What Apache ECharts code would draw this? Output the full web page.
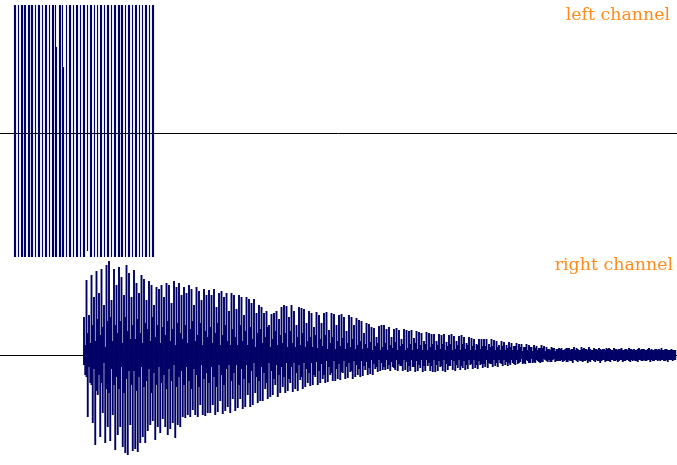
<!DOCTYPE html>
<html><head><meta charset="utf-8">
<script src="https://cdn.jsdelivr.net/npm/echarts@6/dist/echarts.min.js"></script>
<style>html,body{margin:0;padding:0;background:#fff}#c{width:677px;height:465px}</style>
</head><body><div id="c"></div>
<script>
const channelNames = ['left channel', 'right channel'];
const leftSamples = [14,15,18,21,22,24,25,28,29,31,32,35,38,39,42,45,46,49,52,53,55,56,59,60,62,63,66,69,70,73,76,77,80,83,84,87,90,91,94,97,100,101,104,107,108,111,114,115,118,119,121,122,125,128,129,132,135,136,139,142,145,146,149,152,153];
const leftTop = [128,128,128,128,128,128,128,128,128,128,128,128,128,128,128,128,128,128,128,128,128,86,128,128,128,66,128,128,128,128,128,128,128,128,128,128,128,128,128,128,128,128,128,128,128,128,128,128,128,128,128,128,128,128,128,128,128,128,128,128,128,128,128,128,128];
const leftBottom = [124,124,124,124,124,124,124,124,124,124,124,124,124,124,124,124,124,124,124,124,124,124,124,124,124,124,124,124,124,124,124,124,124,124,124,118,124,124,124,124,124,124,124,124,124,124,124,124,124,124,124,124,124,124,124,124,124,124,124,124,124,124,124,124,124];
const rightStart = 84;
const rightStep = 2.5;
const rightUpper = [38,75,40,80,58,84,62,86,50,90,
94,55,86,70,88,78,60,90,82,58,
85,72,62,80,76,55,74,70,50,68,
66,70,58,72,70,52,74,68,72,60,
68,62,70,66,50,68,64,55,66,60,
65,60,66,48,62,64,58,62,44,62,
60,46,60,58,40,58,56,52,56,42,
50,48,42,44,30,41,42,44,36,48,
50,49,38,50,44,30,48,47,46,32,
44,42,28,43,40,32,42,43,25,42,
41,30,40,41,38,24,40,38,30,37,
35,34,22,32,31,28,27,18,29,30,
30,26,28,18,26,27,25,16,26,25,
24,25,17,24,23,22,14,23,22,21,
21,14,21,20,21,13,20,21,19,14,
19,20,18,12,18,17,16,11,16,16,
16,16,11,16,15,14,10,14,13,10,
13,12,9,12,11,11,8,11,10,8,
10,9,7,10,9,8,6,8,7,6,
7,7,5,7,7,6,8,7,5,8,
7,6,8,5,7,6,7,5,6,7,
7,5,7,6,6,7,5,6,7,6,
6,5,7,6,6,5,7,6,5,6,
6,7,5,6,5,6,5];
const rightLower = [20,62,28,68,90,40,82,58,88,72,
86,60,95,80,72,92,98,100,70,96,
94,97,88,82,88,76,70,66,85,72,
78,64,72,80,74,68,83,70,72,62,
63,60,62,55,60,62,50,60,61,58,
58,50,60,57,46,59,56,52,58,44,
56,53,44,54,52,40,52,50,38,48,
46,46,34,44,42,40,30,42,38,32,
38,36,28,37,34,36,25,34,32,28,
31,30,22,30,28,24,28,27,20,26,
26,24,25,18,24,23,17,24,22,20,
22,21,15,20,19,20,14,17,16,15,
15,14,16,12,15,16,11,16,15,17,
16,12,17,16,13,17,16,11,16,17,
17,16,12,16,17,15,11,15,16,13,
15,13,15,14,10,14,13,14,10,13,
12,13,9,12,11,12,8,11,10,11,
10,8,10,9,7,9,9,6,8,8,
8,6,8,7,5,7,7,5,7,6,
6,7,5,7,6,8,5,7,6,7,
6,8,7,5,7,6,8,5,7,6,
7,5,6,7,5,7,6,5,7,6,
6,7,5,6,6,5,7,6,5,6,
6,5,6,7,5,6,5];
const rightInner = [10,22,12,30,14,36,20,28,8,34,
38,14,30,22,34,12,38,24,16,30,
16,36,22,12,32,26,14,38,18,30,
12,28,20,34,14,26,10,32,22,16,
30,12,26,34,14,20,32,10,24,18,
28,12,22,32,10,20,30,14,10,26,
18,10,30,14,24,10,28,16,8,22,
26,12,18,28,8,16,24,10,20,12,
22,8,24,12,8,18,10,22,8,14,
18,8,20,7,16,9,20,6,12,18,
6,14,9,17,6,12,8,16,6,10,
14,6,11,7,13,5,9,12,5,8,
12,5,10,7,13,5,9,11,5,7,
11,5,12,6,10,5,11,5,8,11,
5,10,6,11,5,9,11,5,6,10,
5,11,6,10,5,9,5,10,6,9,
9,5,8,9,5,8,5,9,5,7,
8,5,9,5,8,4,8,5,8,4,
7,5,7,7,4,6,5,7,4,6,
6,5,6,7,5,6,5,6,5,6,
6,5,6,5,6,5,6,6,5,6,
6,5,6,5,6,5,6,5,6,5,
5,6,5,6,5,6,5,5,6,5,
5,5,6,5,5,5,5];

const waveColor = '#000066';
const titleColor = '#ff8c1a';

function crispRender(params, api) {
  const a = api.coord([api.value(0), api.value(1)]);
  const b = api.coord([api.value(0), api.value(2)]);
  const x = Math.floor(a[0]) + 0.5;
  return { type: 'line', shape: { x1: x, y1: a[1], x2: x, y2: b[1] },
    style: { stroke: waveColor, lineWidth: 1.15 } };
}
function waveRender(params, api) {
  const a = api.coord([api.value(0), api.value(1)]);
  const b = api.coord([api.value(0), api.value(2)]);
  return { type: 'line', shape: { x1: a[0], y1: a[1], x2: a[0], y2: b[1] },
    style: { stroke: waveColor, lineWidth: 1.9 } };
}
const leftData = leftSamples.map((x, i) => [x, leftTop[i], -leftBottom[i]]);
const upperData = rightUpper.map((v, i) => [rightStart + i * rightStep, v, -rightInner[i]]);
const lowerData = rightLower.map((v, i) => [rightStart + i * rightStep + rightStep / 2, rightInner[i], -v]);

const xAxisBase = { type: 'value', min: 0, max: 677, show: true,
  axisLine: { show: true, onZero: true, lineStyle: { color: '#000', width: 1 } },
  axisTick: { show: false }, axisLabel: { show: false }, splitLine: { show: false } };
const yAxisBase = { type: 'value', show: false, splitLine: { show: false } };
const spike = (data, idx, render) => ({ type: 'custom', renderItem: render, data, xAxisIndex: idx, yAxisIndex: idx,
  encode: { x: 0, y: [1, 2] }, clip: false, z: 3, animation: false, silent: true });

const chart = echarts.init(document.getElementById('c'), null, { renderer: 'canvas' });
chart.setOption({
  animation: false,
  backgroundColor: '#fff',
  title: [
    { text: channelNames[0], right: 7, top: 7, padding: 0, textStyle: { fontFamily: 'DejaVu Serif', fontWeight: 'normal', fontSize: 17.4, color: titleColor } },
    { text: channelNames[1], right: 4, top: 257, padding: 0, textStyle: { fontFamily: 'DejaVu Serif', fontWeight: 'normal', fontSize: 17.4, color: titleColor } }
  ],
  grid: [
    { left: 0, width: 677, top: 5, height: 256 },
    { left: 0, width: 677, top: 245, height: 220 }
  ],
  xAxis: [ Object.assign({ gridIndex: 0 }, xAxisBase), Object.assign({ gridIndex: 1 }, xAxisBase) ],
  yAxis: [ Object.assign({ gridIndex: 0, min: -128, max: 128 }, yAxisBase), Object.assign({ gridIndex: 1, min: -110, max: 110 }, yAxisBase) ],
  series: [ spike(leftData, 0, crispRender), spike(upperData, 1, waveRender), spike(lowerData, 1, waveRender) ]
});
</script></body></html>
